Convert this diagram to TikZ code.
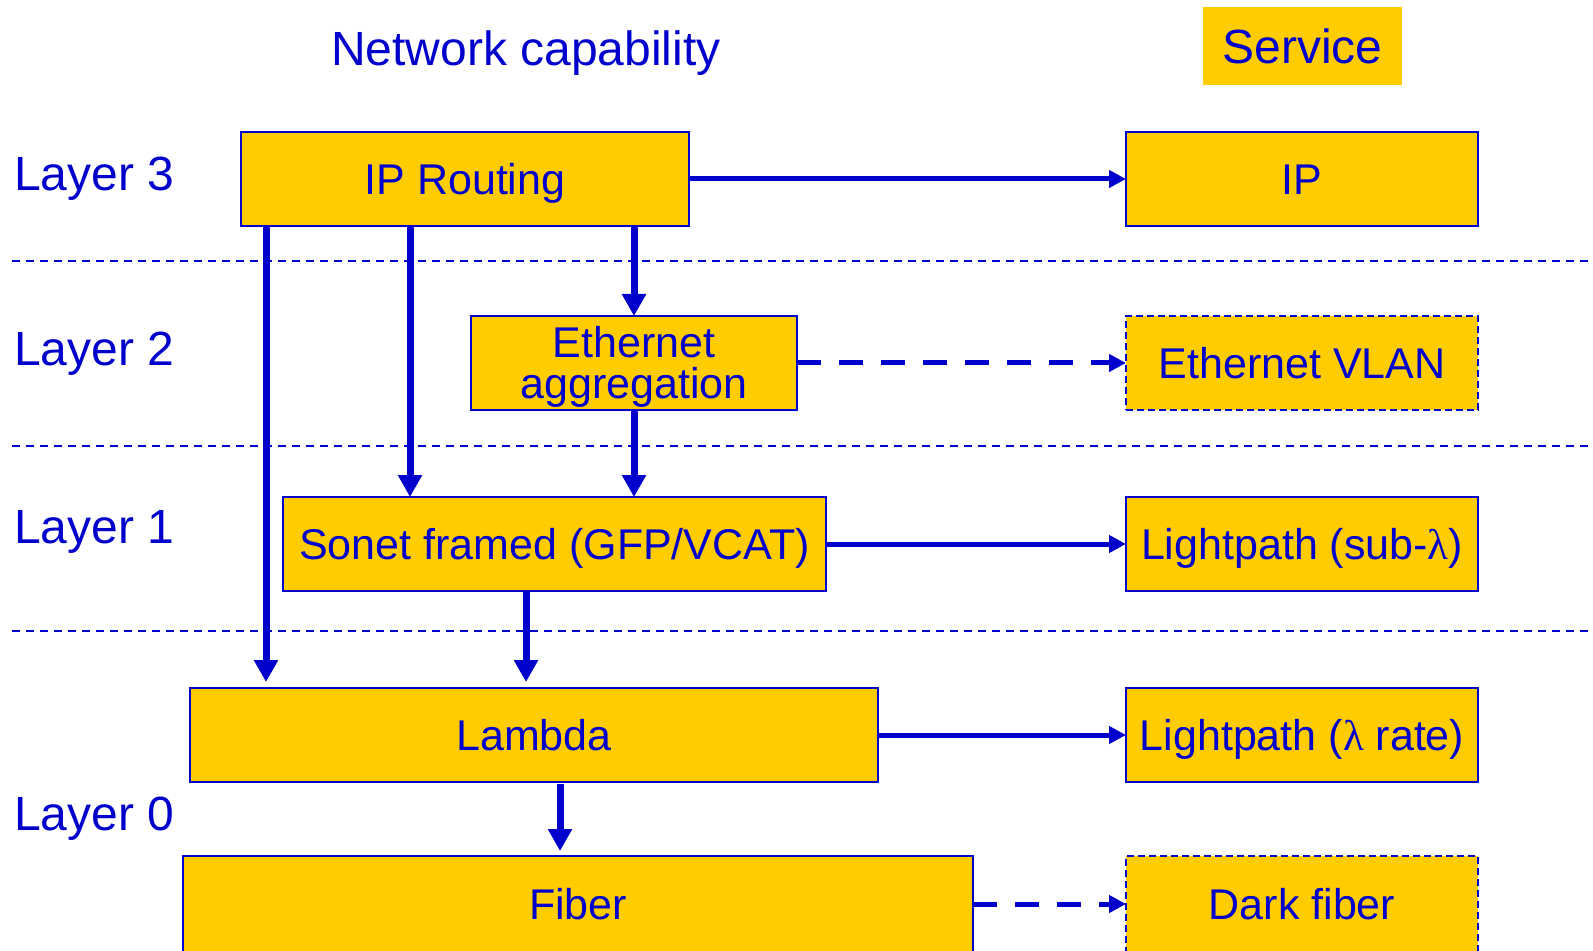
\documentclass[tikz,border=0pt]{standalone}
\usepackage{fontspec}
\setmainfont{Liberation Sans}
\newfontfamily\lambdafont{Liberation Serif}
\usepackage{xcolor}
\usepackage{tikz}
\usetikzlibrary{arrows.meta,positioning,calc}

\definecolor{netblue}{HTML}{0000CC}
\definecolor{netgold}{HTML}{FFCC00}
\newcommand{\lam}{{\lambdafont λ}}

\begin{document}
\begin{tikzpicture}[
        x=0.5pt, y=-0.5pt,
        every node/.style={text=netblue, inner sep=0, outer sep=0},
        layerbox/.style={anchor=north west, draw=netblue, line width=1pt, fill=netgold, minimum height=47pt, align=center,
            text height=15.4pt, text depth=0pt, font=\fontsize{21.5}{20.5}\selectfont},
        svcbox/.style={layerbox, minimum width=176pt},
        optbox/.style={dash pattern=on 3.5pt off 2pt},
        heading/.style={text height=17.2pt, text depth=0pt, font=\fontsize{24}{26}\selectfont},
        sep/.style={netblue, line width=1pt, dash pattern=on 4pt off 3pt},
        down/.style={netblue, line width=3.5pt, -{Triangle[length=11pt, width=11.5pt]}},
        across/.style={netblue, line width=2.5pt, -{Triangle[length=8.5pt, width=8.5pt]}},
        acrossdash/.style={across, dash pattern=on 12pt off 9pt},
    ]
        \useasboundingbox (0,0) rectangle (1593,951);

        % layer separators
        \foreach \y in {261,446,631}
            \draw [sep] (12,\y) -- (1593,\y);

        % column headings and layer names
        \node [heading] (capability) at (526,48) {Network capability};
        \node [heading, fill=netgold, minimum width=99.5pt, minimum height=39pt] (service) at (1302.5,46) {Service};
        \node [heading, anchor=west] (layer3) at (14,173) {Layer 3};
        \node [heading, anchor=west] (layer2) at (14,348) {Layer 2};
        \node [heading, anchor=west] (layer1) at (14,526) {Layer 1};
        \node [heading, anchor=west] (layer0) at (14,813) {Layer 0};

        % network capability
        \node [layerbox, minimum width=224pt] (iprouting) at (241,132) {IP Routing};
        \node [layerbox, minimum width=163pt, text height=35.9pt] (ethagg) at (471,316) {Ethernet\\aggregation};
        \node [layerbox, minimum width=271.5pt] (sonet) at (283,497) {Sonet framed (GFP/VCAT)};
        \node [layerbox, minimum width=344pt] (lambda) at (190,688) {Lambda};
        \node [layerbox, minimum width=395pt, minimum height=48pt] (fiber) at (183,856) {Fiber};

        % services
        \node [svcbox] (ip) at (1126,132) {IP};
        \node [svcbox, optbox] (vlan) at (1126,316) {Ethernet VLAN};
        \node [svcbox] (sublambda) at (1126,497) {Lightpath (sub-\lam)};
        \node [svcbox] (lambdarate) at (1126,688) {Lightpath (\lam{} rate)};
        \node [svcbox, optbox, minimum height=48pt] (darkfiber) at (1126,856) {Dark fiber};

        % capability -> service
        \draw [across] (iprouting.east) -- (ip.west);
        \draw [acrossdash] (ethagg.east) -- (vlan.west);
        \draw [across] (sonet.east) -- (sublambda.west);
        \draw [across] (lambda.east) -- (lambdarate.west);
        \draw [acrossdash] (fiber.east) -- (darkfiber.west);

        % capability -> lower layer
        \coordinate (iptolambda) at ([xshift=12.5pt]iprouting.south west);
        \coordinate (iptosonet) at ([xshift=84.5pt]iprouting.south west);
        \coordinate (sonettolambda) at ([xshift=121.5pt]sonet.south west);
        \coordinate (lambdatofiber) at ([xshift=185pt]lambda.south west);
        \draw [down, shorten >=3pt] (iptolambda) -- (iptolambda |- lambda.north);
        \draw [down] (iptosonet) -- (iptosonet |- sonet.north);
        \draw [down] (ethagg.north |- iprouting.south) -- (ethagg.north);
        \draw [down] (ethagg.south) -- (ethagg.south |- sonet.north);
        \draw [down, shorten >=3pt] (sonettolambda) -- (sonettolambda |- lambda.north);
        \draw [down, shorten <=1pt, shorten >=2.5pt] (lambdatofiber) -- (lambdatofiber |- fiber.north);
    \end{tikzpicture}
\end{document}
